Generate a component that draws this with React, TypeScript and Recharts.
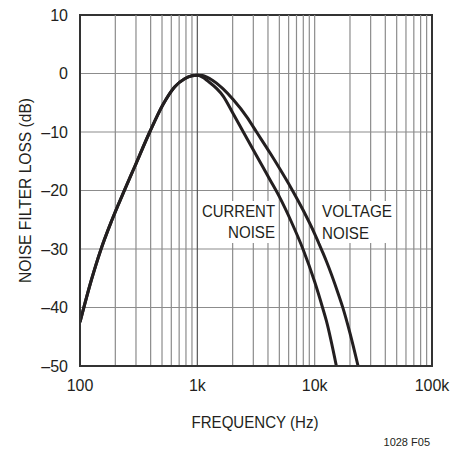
import React from 'react';
import { LineChart, Line, XAxis, YAxis, CartesianGrid, ReferenceLine, ReferenceArea } from 'recharts';

// shared low-frequency slope (both curves lie on top of each other up to ~1kHz)
const freqLow = [100, 125, 150, 185, 240, 293, 393, 510, 640, 780, 900, 1000];
const lossLow = [-42.5, -35.3, -30.2, -25.3, -19.9, -15.9, -10, -5.3, -2.3, -0.9, -0.4, -0.3];

// high-frequency roll-off, current noise
const freqCurrent = [1250, 1666, 2000, 2466, 3162, 4169, 5012, 6310, 7943, 10000, 11670, 12590, 15310];
const lossCurrent = [-1.4, -3.9, -6.7, -10, -13.9, -18.2, -21.1, -25.3, -30, -35.6, -40, -42.3, -50];

// high-frequency roll-off, voltage noise
const freqVoltage = [1100, 1283, 1650, 2028, 2637, 3208, 4169, 5012, 6310, 7943, 10000, 11610, 12590, 15850, 17300, 19950, 23440];
const lossVoltage = [-0.35, -0.9, -2.6, -4.5, -7.4, -10.05, -13.6, -16.2, -19.6, -23.3, -27.4, -30.4, -32.1, -37.6, -39.9, -44.3, -50];

const xTicks = [100, 1000, 10000, 100000];
const xTickLabels = ['100', '1k', '10k', '100k'];
const yTicks = [10, 0, -10, -20, -30, -40, -50];

// minor grid: 2..9 in each decade
const minorFreqs: number[] = [];
[100, 1000, 10000].forEach((d) => {
  for (let m = 2; m <= 9; m++) minorFreqs.push(d * m);
});

const toPoints = (f: number[], v: number[]) => f.map((x, i) => ({ f: x, db: v[i] }));
const currentData = [...toPoints(freqLow, lossLow), ...toPoints(freqCurrent, lossCurrent)];
const voltageData = [...toPoints(freqLow, lossLow), ...toPoints(freqVoltage, lossVoltage)];

const fmtY = (v: number) => (v < 0 ? '\u2013' + Math.abs(v) : String(v));
const fmtX = (v: number) => xTickLabels[xTicks.indexOf(v)] ?? '';

const FONT = '"Liberation Sans", Arial, Helvetica, sans-serif';
const TEXT = '#231f20';
const GRID = '#8c8c8c';

export default function App() {
  return (
    <div style={{ position: 'absolute', left: 0, top: 0, width: 452, height: 450, background: '#fff', fontFamily: FONT }}>
      <LineChart width={452} height={450} margin={{ top: 15, right: 20, left: 0, bottom: 54 }}>
        <CartesianGrid vertical={false} stroke={GRID} strokeWidth={1.2} />
        {minorFreqs.map((f) => (
          <ReferenceLine key={f} x={f} stroke={GRID} strokeWidth={1.2} />
        ))}
        <ReferenceLine x={1000} stroke="#555" strokeWidth={1.2} />
        <ReferenceLine x={10000} stroke={GRID} strokeWidth={1.2} />
        <XAxis
          dataKey="f"
          type="number"
          scale="log"
          domain={[100, 100000]}
          ticks={xTicks}
          tickFormatter={fmtX}
          allowDataOverflow
          height={30}
          tickSize={0}
          tickMargin={14}
          axisLine={{ stroke: '#333', strokeWidth: 2 }}
          tick={{ fill: TEXT, fontSize: 16, fontFamily: FONT }}
        />
        <YAxis
          type="number"
          domain={[-50, 10]}
          ticks={yTicks}
          tickFormatter={fmtY}
          allowDataOverflow
          width={80}
          tickSize={0}
          tickMargin={12}
          axisLine={{ stroke: '#333', strokeWidth: 2 }}
          tick={{ fill: TEXT, fontSize: 16, fontFamily: FONT }}
        />
        <ReferenceArea x1={100} x2={100000} y1={-50} y2={10} fill="none" fillOpacity={0} stroke="#333" strokeWidth={2} />
        <Line data={currentData} dataKey="db" type="monotone" stroke={TEXT} strokeWidth={3} dot={false} isAnimationActive={false} />
        <Line data={voltageData} dataKey="db" type="monotone" stroke={TEXT} strokeWidth={3} dot={false} isAnimationActive={false} />
      </LineChart>

      <svg width={452} height={450} style={{ position: 'absolute', left: 0, top: 0, pointerEvents: 'none' }}>
        <g fontFamily={FONT} fill={TEXT}>
          <rect x={198} y={201} width={78} height={42} fill="#fff" />
          <text x={275} y={217} fontSize={17} textAnchor="end" textLength={73} lengthAdjust="spacingAndGlyphs">CURRENT</text>
          <text x={275} y={238} fontSize={17} textAnchor="end" textLength={47} lengthAdjust="spacingAndGlyphs">NOISE</text>
          <rect x={320} y={201} width={76} height={42} fill="#fff" />
          <text x={322} y={217} fontSize={17} textLength={70} lengthAdjust="spacingAndGlyphs">VOLTAGE</text>
          <text x={322} y={239} fontSize={17} textLength={47} lengthAdjust="spacingAndGlyphs">NOISE</text>
          <text x={255} y={428} fontSize={16} textAnchor="middle" textLength={127} lengthAdjust="spacingAndGlyphs">FREQUENCY (Hz)</text>
          <text
            x={0}
            y={0}
            fontSize={16}
            textAnchor="middle"
            textLength={185}
            lengthAdjust="spacingAndGlyphs"
            transform="translate(31 190.5) rotate(-90)"
          >
            NOISE FILTER LOSS (dB)
          </text>
          <text x={430} y={446} fontSize={11} textAnchor="end">1028 F05</text>
        </g>
      </svg>
    </div>
  );
}
